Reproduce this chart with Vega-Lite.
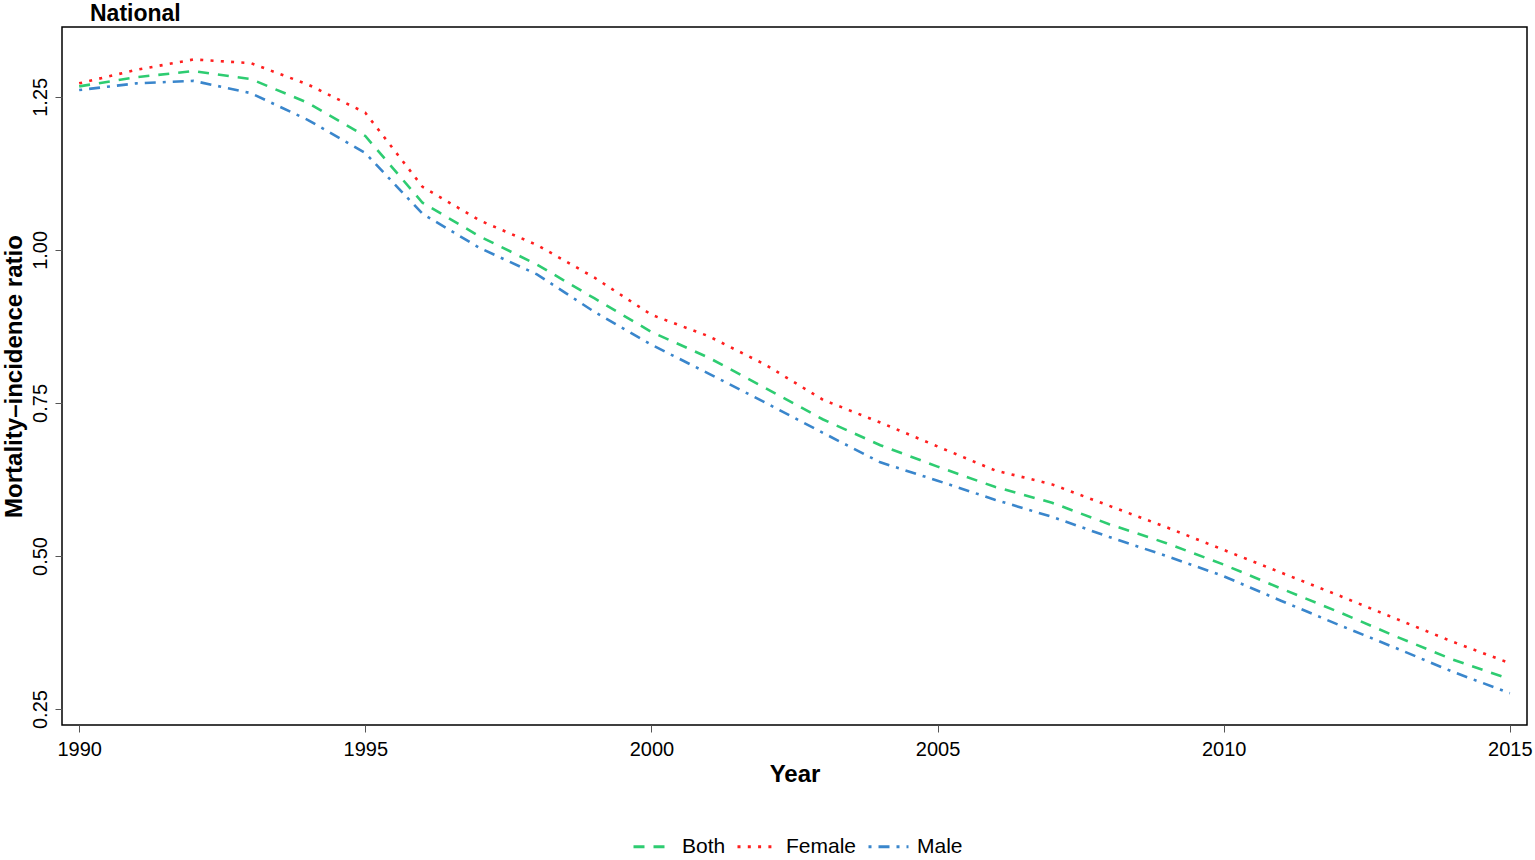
{
  "$schema": "https://vega.github.io/schema/vega-lite/v6.json",
  "width": 1465,
  "height": 698,
  "autosize": {"type": "none"},
  "padding": {"left": 62, "top": 27, "right": 8, "bottom": 135},
  "background": "white",
  "title": {"text": "National", "anchor": "start", "frame": "group", "dx": 28, "offset": 1, "font": "Liberation Sans", "fontSize": 23, "fontWeight": "bold", "color": "black"},
  "config": {
    "font": "Liberation Sans",
    "view": {"stroke": "black", "strokeWidth": 1.5},
    "axis": {"grid": false, "domain": false, "tickColor": "#555", "tickSize": 7, "tickWidth": 1, "labelFontSize": 20, "labelColor": "black", "titleFontSize": 24, "titleFontWeight": "bold", "titleColor": "black"}
  },
  "data": {"values": [
    {"year": 1990, "sex": "Both", "ratio": 1.267}, {"year": 1991, "sex": "Both", "ratio": 1.282}, {"year": 1992, "sex": "Both", "ratio": 1.292}, {"year": 1993, "sex": "Both", "ratio": 1.279}, {"year": 1994, "sex": "Both", "ratio": 1.240}, {"year": 1995, "sex": "Both", "ratio": 1.186}, {"year": 1996, "sex": "Both", "ratio": 1.077}, {"year": 1997, "sex": "Both", "ratio": 1.022}, {"year": 1998, "sex": "Both", "ratio": 0.976}, {"year": 1999, "sex": "Both", "ratio": 0.921}, {"year": 2000, "sex": "Both", "ratio": 0.866}, {"year": 2001, "sex": "Both", "ratio": 0.824}, {"year": 2002, "sex": "Both", "ratio": 0.774}, {"year": 2003, "sex": "Both", "ratio": 0.723}, {"year": 2004, "sex": "Both", "ratio": 0.681}, {"year": 2005, "sex": "Both", "ratio": 0.646}, {"year": 2006, "sex": "Both", "ratio": 0.613}, {"year": 2007, "sex": "Both", "ratio": 0.587}, {"year": 2008, "sex": "Both", "ratio": 0.552}, {"year": 2009, "sex": "Both", "ratio": 0.521}, {"year": 2010, "sex": "Both", "ratio": 0.486}, {"year": 2011, "sex": "Both", "ratio": 0.447}, {"year": 2012, "sex": "Both", "ratio": 0.409}, {"year": 2013, "sex": "Both", "ratio": 0.369}, {"year": 2014, "sex": "Both", "ratio": 0.331}, {"year": 2015, "sex": "Both", "ratio": 0.299},
    {"year": 1990, "sex": "Female", "ratio": 1.272}, {"year": 1991, "sex": "Female", "ratio": 1.294}, {"year": 1992, "sex": "Female", "ratio": 1.311}, {"year": 1993, "sex": "Female", "ratio": 1.305}, {"year": 1994, "sex": "Female", "ratio": 1.270}, {"year": 1995, "sex": "Female", "ratio": 1.224}, {"year": 1996, "sex": "Female", "ratio": 1.103}, {"year": 1997, "sex": "Female", "ratio": 1.048}, {"year": 1998, "sex": "Female", "ratio": 1.008}, {"year": 1999, "sex": "Female", "ratio": 0.955}, {"year": 2000, "sex": "Female", "ratio": 0.894}, {"year": 2001, "sex": "Female", "ratio": 0.859}, {"year": 2002, "sex": "Female", "ratio": 0.812}, {"year": 2003, "sex": "Female", "ratio": 0.755}, {"year": 2004, "sex": "Female", "ratio": 0.718}, {"year": 2005, "sex": "Female", "ratio": 0.679}, {"year": 2006, "sex": "Female", "ratio": 0.640}, {"year": 2007, "sex": "Female", "ratio": 0.617}, {"year": 2008, "sex": "Female", "ratio": 0.582}, {"year": 2009, "sex": "Female", "ratio": 0.547}, {"year": 2010, "sex": "Female", "ratio": 0.510}, {"year": 2011, "sex": "Female", "ratio": 0.473}, {"year": 2012, "sex": "Female", "ratio": 0.436}, {"year": 2013, "sex": "Female", "ratio": 0.398}, {"year": 2014, "sex": "Female", "ratio": 0.360}, {"year": 2015, "sex": "Female", "ratio": 0.325},
    {"year": 1990, "sex": "Male", "ratio": 1.261}, {"year": 1991, "sex": "Male", "ratio": 1.272}, {"year": 1992, "sex": "Male", "ratio": 1.276}, {"year": 1993, "sex": "Male", "ratio": 1.256}, {"year": 1994, "sex": "Male", "ratio": 1.212}, {"year": 1995, "sex": "Male", "ratio": 1.158}, {"year": 1996, "sex": "Male", "ratio": 1.059}, {"year": 1997, "sex": "Male", "ratio": 1.003}, {"year": 1998, "sex": "Male", "ratio": 0.960}, {"year": 1999, "sex": "Male", "ratio": 0.899}, {"year": 2000, "sex": "Male", "ratio": 0.845}, {"year": 2001, "sex": "Male", "ratio": 0.798}, {"year": 2002, "sex": "Male", "ratio": 0.750}, {"year": 2003, "sex": "Male", "ratio": 0.701}, {"year": 2004, "sex": "Male", "ratio": 0.653}, {"year": 2005, "sex": "Male", "ratio": 0.623}, {"year": 2006, "sex": "Male", "ratio": 0.592}, {"year": 2007, "sex": "Male", "ratio": 0.564}, {"year": 2008, "sex": "Male", "ratio": 0.531}, {"year": 2009, "sex": "Male", "ratio": 0.500}, {"year": 2010, "sex": "Male", "ratio": 0.467}, {"year": 2011, "sex": "Male", "ratio": 0.427}, {"year": 2012, "sex": "Male", "ratio": 0.388}, {"year": 2013, "sex": "Male", "ratio": 0.350}, {"year": 2014, "sex": "Male", "ratio": 0.311}, {"year": 2015, "sex": "Male", "ratio": 0.276}
  ]},
  "mark": {"type": "line", "strokeWidth": 2.6, "strokeCap": "butt", "interpolate": "linear"},
  "encoding": {
    "x": {"field": "year", "type": "quantitative", "scale": {"domain": [1989.7, 2015.3], "nice": false, "zero": false},
      "axis": {"values": [1990, 1995, 2000, 2005, 2010, 2015], "format": "d", "title": "Year", "labelPadding": 7, "titlePadding": 3, "labelFlush": false}},
    "y": {"field": "ratio", "type": "quantitative", "scale": {"domain": [0.224, 1.364], "nice": false, "zero": false},
      "axis": {"values": [0.25, 0.5, 0.75, 1.0, 1.25], "format": ".2f", "title": "Mortality\u2013incidence ratio", "labelAngle": 270, "labelAlign": "center", "labelBaseline": "bottom", "labelPadding": 5, "titlePadding": 4, "labelFlush": false}},
    "color": {"field": "sex", "type": "nominal", "scale": {"domain": ["Both", "Female", "Male"], "range": ["#2ecc71", "#ff1f1f", "#3a86cc"]},
      "legend": {"orient": "none", "legendX": 570, "legendY": 798, "direction": "horizontal", "title": null, "symbolType": "stroke", "symbolSize": 1600, "symbolStrokeWidth": 3, "labelFontSize": 21, "labelColor": "black", "columnPadding": 5, "labelOffset": 7}},
    "strokeDash": {"field": "sex", "type": "nominal", "scale": {"domain": ["Both", "Female", "Male"], "range": [[11, 9], [3, 7.3], [3, 7, 11, 7]]}, "legend": null}
  }
}
